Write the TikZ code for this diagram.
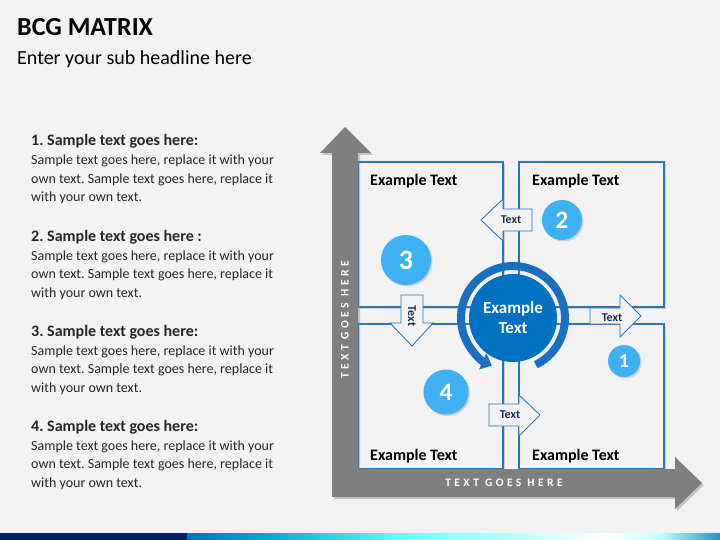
\documentclass[tikz,border=0pt]{standalone}
\usepackage{fontspec}
\setmainfont{Carlito}
\usetikzlibrary{shadows,arrows.meta}
\definecolor{fondo}{HTML}{F2F2F2}
\definecolor{bordo}{HTML}{2E75B6}
\definecolor{bluscuro}{HTML}{0070C0}
\definecolor{anello}{HTML}{1A6FC0}
\definecolor{azzurro}{HTML}{40B0F5}
\definecolor{asse}{HTML}{7F7F7F}
\definecolor{testo}{HTML}{262626}
\definecolor{scritta}{HTML}{1F2D4D}
\definecolor{navy}{HTML}{002060}
\frenchspacing
\tikzset{
  quadro/.style={draw=bordo,line width=1.2pt,fill=fondo,drop shadow={opacity=0.3,shadow xshift=2pt,shadow yshift=-2pt}},
  freccina/.style={draw=bordo,line width=0.9pt,fill=fondo},
  piccolo/.style={text=scritta,inner sep=0pt,font=\fontsize{12}{13}\selectfont\bfseries},
  numero/.style={circle,fill=azzurro,text=white,inner sep=0pt,drop shadow={opacity=0.3,shadow xshift=1.5pt,shadow yshift=-1.5pt}},
  etichetta/.style={anchor=west,inner sep=0pt,text=black,font=\fontsize{16}{18}\selectfont\bfseries},
  asselab/.style={text=white,inner sep=0pt,font=\fontsize{11.5}{12}\selectfont\bfseries\addfontfeature{LetterSpace=30}},
  riga/.style={anchor=base west,inner sep=0pt,text=testo,font=\fontsize{14}{18}\selectfont}
}
\begin{document}
\begin{tikzpicture}[x=1pt,y=-1pt]
\useasboundingbox (0,0) rectangle (720,540);
\fill[fondo] (0,0) rectangle (720,540);

  %% barra in basso
  \fill[navy] (0,533) rectangle (187,540);
  \shade[left color=bluscuro,right color=blue!20!cyan!80!black] (187,533) rectangle (257,540);
  \shade[left color=blue!20!cyan!80!black,right color=cyan!55!white] (257,533) rectangle (413,540);
  \shade[left color=cyan!55!white,right color=white] (413,533) rectangle (606,540);
  \shade[left color=white,right color=cyan!25!white] (606,533) rectangle (661,540);
  \shade[left color=cyan!25!white,right color=bordo!80!cyan] (661,533) rectangle (720,540);

  %% titoli
  \node[anchor=base west,inner sep=0pt,font=\fontsize{26}{28}\selectfont\bfseries] (titolo) at (17,36) {BCG MATRIX};
  \node[anchor=base west,inner sep=0pt,font=\fontsize{20}{22}\selectfont] (sottotitolo) at (17,65) {Enter your sub headline here};

  %% testi a sinistra
  \foreach \hd [count=\k] in {{1. Sample text goes here:},{2. Sample text goes here :},{3. Sample text goes here:},{4. Sample text goes here:}}{
    \node[riga,font=\fontsize{16}{18}\selectfont\bfseries] (voce\k) at (31,{146+95*(\k-1)}) {\hd};
    \node[riga] (voce\k-a) at (31,{165+95*(\k-1)}) {Sample text goes here, replace it with your};
    \node[riga] (voce\k-b) at (31,{183.5+95*(\k-1)}) {own text. Sample text goes here, replace it};
    \node[riga] (voce\k-c) at (31,{202+95*(\k-1)}) {with your own text.};
  }

  %% quadranti
  \foreach \xa/\ya in {358/162,519/162,358/324,519/324} \draw[quadro] (\xa,\ya) rectangle +(145,145);
  \node[etichetta] (q1) at (370,181) {Example Text};
  \node[etichetta] (q2) at (532,181) {Example Text};
  \node[etichetta] (q3) at (370,456) {Example Text};
  \node[etichetta] (q4) at (532,456) {Example Text};

  %% assi
  \fill[asse,drop shadow={opacity=0.4,shadow xshift=2pt,shadow yshift=-2pt}] (332,497) -- (332,153) -- (320,153) -- (345,127) -- (371,153) -- (358,153) -- (358,469) -- (675,469) -- (675,457) -- (702,483) -- (675,509) -- (675,497) -- cycle;
  \node[asselab] (assex) at (504,483) {TEXT GOES HERE};
  \node[asselab,rotate=90] (assey) at (345,320) {TEXT GOES HERE};

  %% cerchio centrale
  \node[circle,fill=bluscuro,minimum size=88pt,inner sep=0pt,text=white,align=center,font=\fontsize{17}{20}\selectfont\bfseries] (nucleo) at (513,318) {Example\\Text};
  \draw[anello,line width=8pt,-{Triangle[width=17pt,length=10pt]}] ([shift={(64:52)}]nucleo.center) arc[start angle=64,end angle=-246,radius=52];

  %% frecce piccole
  \draw[freccina] (532,209) -- (503,209) -- (503,199) -- (481,220) -- (503,241) -- (503,231) -- (532,231) -- cycle;
  \node[piccolo] (f2) at (511,220) {Text};
  \draw[freccina] (590,308) -- (620,308) -- (620,295) -- (641,316) -- (620,337) -- (620,324) -- (590,324) -- cycle;
  \node[piccolo] (f1) at (612,318) {Text};
  \draw[freccina] (401,295) -- (401,323) -- (390,323) -- (412,346) -- (433,323) -- (423,323) -- (423,295) -- cycle;
  \node[piccolo,rotate=-90] (f3) at (412,316) {Text};
  \draw[freccina] (489,404) -- (519,404) -- (519,395) -- (540,415) -- (519,436) -- (519,426) -- (489,426) -- cycle;
  \node[piccolo] (f4) at (510,415) {Text};

  %% numeri
  \node[numero,minimum size=32pt,font=\fontsize{20}{20}\selectfont\bfseries] (n1) at (624,361) {1};
  \node[numero,minimum size=40pt,font=\fontsize{25}{25}\selectfont\bfseries] (n2) at (562,220) {2};
  \node[numero,minimum size=50pt,font=\fontsize{28}{28}\selectfont\bfseries] (n3) at (406,260) {3};
  \node[numero,minimum size=45pt,font=\fontsize{25}{25}\selectfont\bfseries] (n4) at (446,392) {4};
\end{tikzpicture}
\end{document}
